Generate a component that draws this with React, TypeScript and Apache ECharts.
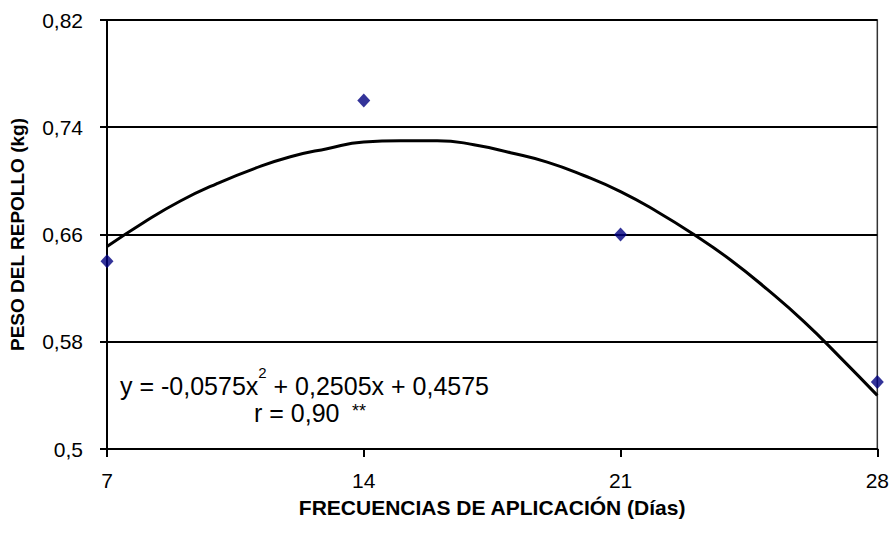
import React, { useEffect, useRef } from "react";
import * as echarts from "echarts";

// Observed data (days, kg)
const days = [7, 14, 21, 28];
const weights = [0.64, 0.76, 0.66, 0.55];

// Trend curve, one value per day from 7 to 28
const trendDays = [7, 8, 9, 10, 11, 12, 13, 14, 15, 16, 17, 18, 19, 20, 21, 22, 23, 24, 25, 26, 27, 28];
const trendWeights = [0.651, 0.669, 0.685, 0.698, 0.709, 0.718, 0.724, 0.729, 0.730, 0.730, 0.727, 0.721, 0.714, 0.704, 0.692, 0.677, 0.660, 0.641, 0.619, 0.595, 0.568, 0.540];

const yTicks = [0.5, 0.58, 0.66, 0.74, 0.82];
const xTicks = [7, 14, 21, 28];

const yTitle = "PESO DEL REPOLLO (kg)";
const xTitle = "FRECUENCIAS DE APLICACIÓN (Días)";

export default function App() {
  const ref = useRef<HTMLDivElement>(null);
  useEffect(() => {
    if (!ref.current) return;
    const chart = echarts.init(ref.current, null, { renderer: "svg" });
    const font = "Liberation Sans";
    chart.setOption({
      animation: false,
      backgroundColor: "#ffffff",
      textStyle: { fontFamily: font },
      grid: { left: 107, right: 11, top: 20, bottom: 91, show: true, borderColor: "#333", borderWidth: 1.5, backgroundColor: "transparent" },
      xAxis: {
        type: "value",
        min: xTicks[0],
        max: xTicks[xTicks.length - 1],
        interval: 7,
        axisLine: { show: true, onZero: false, lineStyle: { color: "#000", width: 2 } },
        axisTick: { show: true, inside: false, length: 8, lineStyle: { color: "#000", width: 2 } },
        axisLabel: { color: "#000", fontSize: 21, fontFamily: font, margin: 21, verticalAlign: "top" },
        splitLine: { show: false },
        name: xTitle,
        nameLocation: "middle",
        nameGap: 48,
        nameMoveOverlap: false,
        nameTextStyle: { color: "#000", fontSize: 21, fontWeight: "bold", fontFamily: font, verticalAlign: "top" },
      },
      yAxis: {
        type: "value",
        min: yTicks[0],
        max: yTicks[yTicks.length - 1],
        interval: 0.08,
        axisLine: { show: true, lineStyle: { color: "#000", width: 2 } },
        axisTick: { show: true, inside: false, length: 7, lineStyle: { color: "#000", width: 2 } },
        axisLabel: {
          color: "#000",
          fontSize: 21,
          fontFamily: font,
          margin: 24,
          formatter: (v: number) => String(Math.round(v * 100) / 100).replace(".", ","),
        },
        splitLine: { show: true, lineStyle: { color: "#000", width: 2 } },
        name: yTitle,
        nameLocation: "middle",
        nameGap: 80,
        nameMoveOverlap: false,
        nameTextStyle: { color: "#000", fontSize: 19, fontWeight: "bold", fontFamily: font },
      },
      series: [
        {
          type: "line",
          data: trendDays.map((d, i) => [d, trendWeights[i]]),
          smooth: true,
          showSymbol: false,
          lineStyle: { color: "#000", width: 3 },
          z: 3,
        },
        {
          type: "scatter",
          data: days.map((d, i) => [d, weights[i]]),
          symbol: "diamond",
          symbolSize: [13, 14],
          itemStyle: { color: "#000080" },
          z: 4,
        },
      ],
      graphic: [
        {
          type: "text",
          left: 120,
          top: 365,
          style: {
            text: "{a|y = -0,0575x}{s|2}{a| + 0,2505x + 0,4575}",
            rich: {
              a: { fontSize: 25, fontFamily: font, fill: "#000", verticalAlign: "bottom", lineHeight: 33 },
              s: { fontSize: 15, fontFamily: font, fill: "#000", verticalAlign: "top", lineHeight: 33 },
            },
          },
        },
        {
          type: "text",
          left: 254,
          top: 400,
          style: {
            text: "r = 0,90",
            fontSize: 25,
            fontFamily: font,
            fill: "#000",
          },
        },
        {
          type: "text",
          left: 352,
          top: 402,
          style: { text: "**", fontSize: 18, fontFamily: font, fill: "#000" },
        },
      ],
    });
    return () => chart.dispose();
  }, []);
  return <div ref={ref} style={{ width: 892, height: 540, position: "absolute", left: 0, top: 0 }} />;
}
